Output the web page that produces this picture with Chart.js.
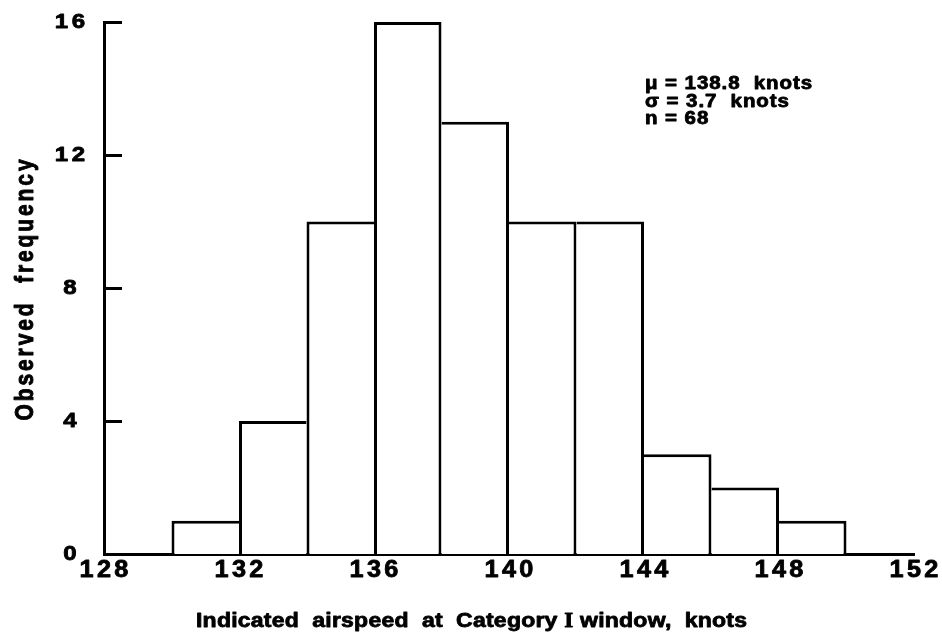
<!DOCTYPE html>
<html>
<head>
<meta charset="utf-8">
<script src="https://cdn.jsdelivr.net/npm/chart.js@4/dist/chart.umd.min.js"></script>
<style>
  html, body { margin: 0; padding: 0; background: #fff; }
  #wrap { width: 942px; height: 641px; position: relative; }
</style>
</head>
<body>
<div id="wrap"><canvas id="hist"></canvas></div>
<script>
// Histogram bins (knots) and observed counts
const binStarts = [130, 132, 134, 136, 138, 140, 142, 144, 146, 148];
const binWidth = 2;
const counts = [1, 4, 10, 16, 13, 10, 10, 3, 2, 1];

// Axis tick labels
const xTickValues = [128, 132, 136, 140, 144, 148, 152];
const yTickValues = [0, 4, 8, 12, 16];

// Text
const statLines = ['\u03bc = 138.8  knots', '\u03c3 = 3.7  knots', 'n = 68'];
const xTitleParts = ['Indicated  airspeed  at  Category ', 'I', ' window,  knots'];
const yTitle = 'Observed  frequency';

const SANS = '"Liberation Sans", Arial, Helvetica, sans-serif';
const SERIF = '"Liberation Serif", "Times New Roman", serif';
const LINE = 3;

// One outline per shared edge: the taller neighbour carries it
function barBorder(ctx) {
  const i = ctx.dataIndex;
  const h = counts[i];
  const prev = i > 0 ? counts[i - 1] : -1;
  const next = i < counts.length - 1 ? counts[i + 1] : -1;
  return {
    top: LINE,
    bottom: 0,
    left: (i === 0 || h > prev) ? LINE : 0,
    right: (next < 0 || h >= next) ? LINE : 0
  };
}

// Draws wide, heavy, letter-spaced text
function wideText(ctx, str, x, y, o) {
  ctx.save();
  ctx.font = `${o.weight || 'bold'} ${o.size}px ${o.family || SANS}`;
  ctx.letterSpacing = (o.spacing || 0) + 'px';
  ctx.textBaseline = 'alphabetic';
  ctx.textAlign = o.align || 'left';
  ctx.translate(x, y);
  if (o.rotate) ctx.rotate(o.rotate);
  ctx.scale(o.sx || 1, o.sy || 1);
  const shift = (o.align === 'center') ? (o.spacing || 0) / 2 : 0;
  ctx.fillText(str, shift, 0);
  ctx.lineWidth = o.heavy === undefined ? 0.8 : o.heavy;
  ctx.lineJoin = 'round';
  if (ctx.lineWidth > 0) ctx.strokeText(str, shift, 0);
  const w = ctx.measureText(str).width;
  ctx.restore();
  return w * (o.sx || 1);
}

const annotate = {
  id: 'annotate',
  afterDraw(chart) {
    const { ctx, scales: { x, y } } = chart;
    ctx.save();
    ctx.fillStyle = '#000';
    ctx.strokeStyle = '#000';

    // inward tick stubs on the frequency axis
    ctx.lineWidth = LINE;
    yTickValues.forEach(v => {
      if (v === 0) return;
      const py = Math.round(y.getPixelForValue(v)) + 0.5;
      ctx.beginPath();
      ctx.moveTo(x.left - 1, py);
      ctx.lineTo(x.left + 18, py);
      ctx.stroke();
    });

    // frequency tick labels
    yTickValues.forEach(v => {
      const py = y.getPixelForValue(v);
      wideText(ctx, String(v), 70, py + 6, { size: 20, sx: 1.2, spacing: 3, align: 'center' });
    });

    // airspeed tick labels
    xTickValues.forEach(v => {
      const px = x.getPixelForValue(v);
      wideText(ctx, String(v), px, 577, { size: 23, sx: 1.1, spacing: 3, align: 'center' });
    });

    // summary statistics
    statLines.forEach((s, i) => {
      wideText(ctx, s, 645, 89 + i * 17.5, { size: 17.5, sx: 1.17, spacing: 0.8 });
    });

    // x axis title (roman numeral set in serif)
    let tx = 196;
    xTitleParts.forEach((part, i) => {
      const fam = i === 1 ? SERIF : SANS;
      tx += wideText(ctx, part, tx, 627, { size: 20, sx: 1.15, spacing: 0.2, family: fam });
    });

    // y axis title
    wideText(ctx, yTitle, 33, (y.top + y.bottom) / 2 + 2, {
      size: 21, sy: 1.25, spacing: 2.9, align: 'center', rotate: -Math.PI / 2
    });

    ctx.restore();
  }
};

new Chart(document.getElementById('hist'), {
  type: 'bar',
  data: {
    datasets: [{
      data: binStarts.map((b, i) => ({ x: b + binWidth / 2, y: counts[i] })),
      backgroundColor: '#fff',
      borderColor: '#000',
      borderWidth: barBorder,
      borderSkipped: false,
      inflateAmount: 0,
      barPercentage: 1,
      categoryPercentage: 1
    }]
  },
  options: {
    responsive: true,
    maintainAspectRatio: false,
    animation: false,
    events: [],
    layout: { padding: { left: 104, right: 28, top: 22, bottom: 87 } },
    plugins: { legend: { display: false }, tooltip: { enabled: false } },
    scales: {
      x: {
        type: 'linear',
        min: 128, max: 152,
        offset: false,
        z: 1,
        grid: { display: false, drawTicks: false },
        ticks: { display: false },
        border: { display: true, width: LINE, color: '#000' }
      },
      y: {
        min: 0, max: 16,
        z: 1,
        grid: { display: false, drawTicks: false },
        ticks: { display: false, stepSize: 4 },
        border: { display: true, width: LINE, color: '#000' }
      }
    }
  },
  plugins: [annotate]
});
</script>
</body>
</html>
